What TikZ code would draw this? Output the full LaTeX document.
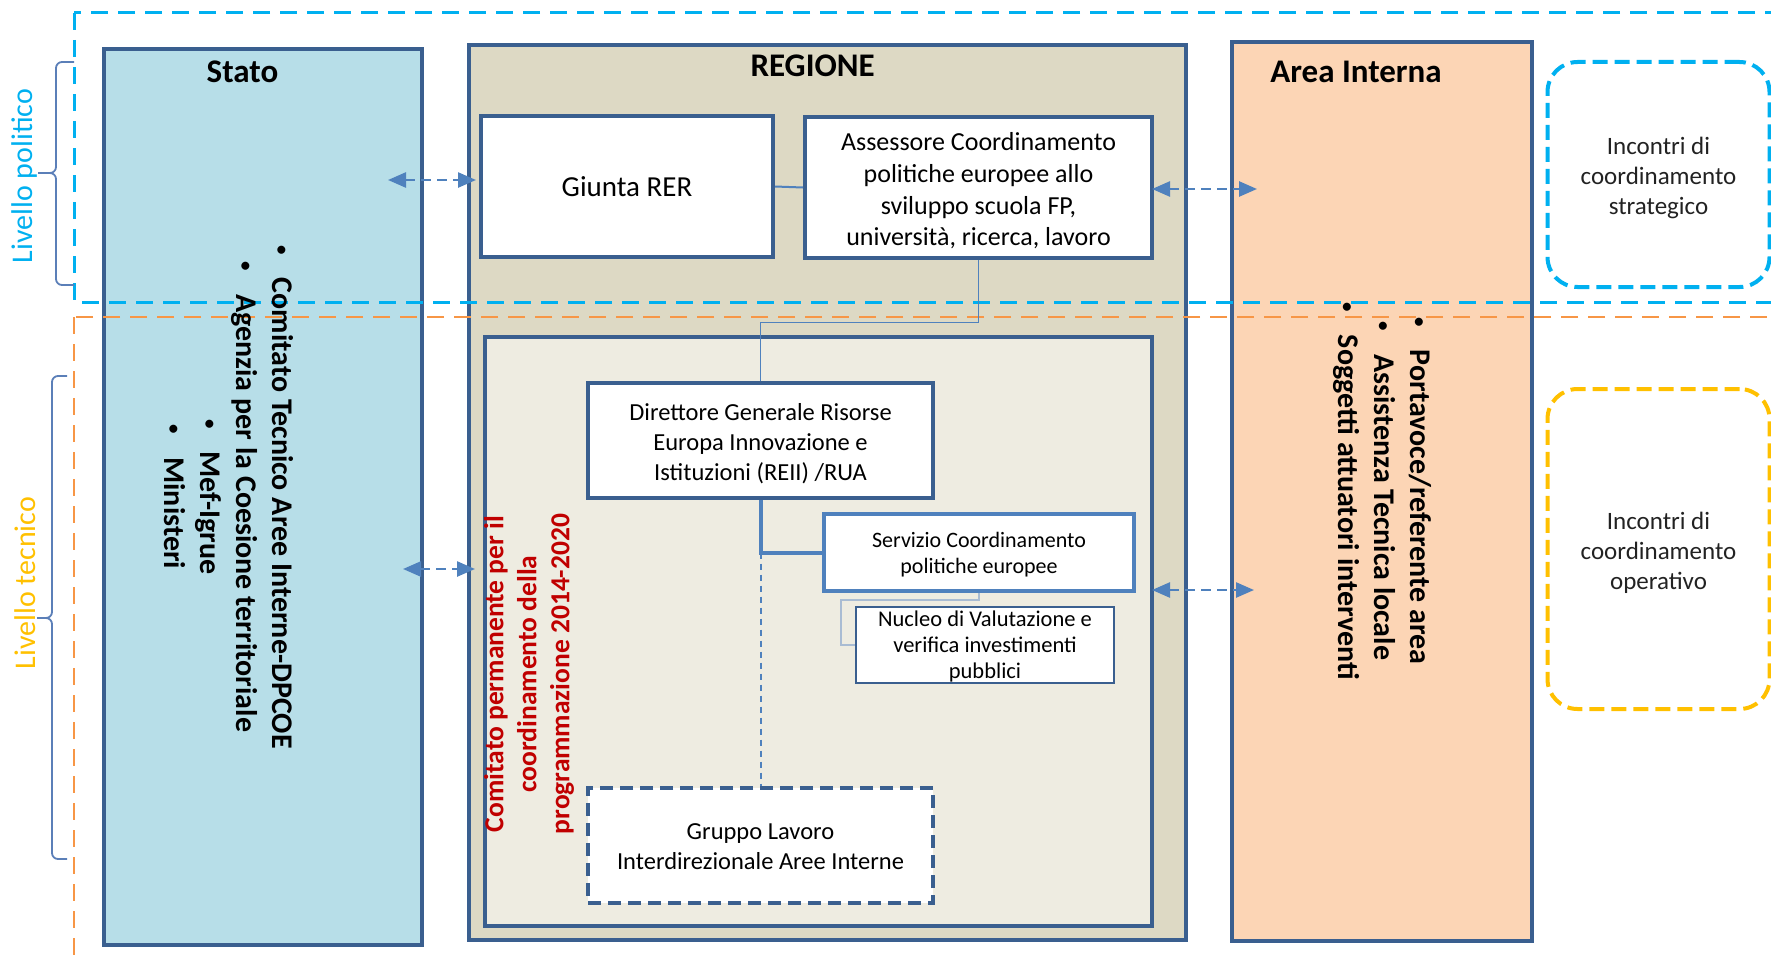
\documentclass[tikz,border=0pt]{standalone}
\usepackage{fontspec}
\setmainfont{Carlito}
\usetikzlibrary{arrows.meta}
\definecolor{boxblue}{HTML}{3A5F8F}
\definecolor{arrblue}{HTML}{4F81BD}
\definecolor{statofill}{HTML}{B7DEE8}
\definecolor{regfill}{HTML}{DDD9C4}
\definecolor{innerfill}{HTML}{EEECE1}
\definecolor{areafill}{HTML}{FCD5B5}
\definecolor{cyanc}{HTML}{00B0F0}
\definecolor{orangec}{HTML}{F79646}
\definecolor{yellowc}{HTML}{FFC000}
\definecolor{redc}{HTML}{C00000}
\definecolor{lightconn}{HTML}{A9BCD3}
\definecolor{bracec}{HTML}{5B7FB8}
\definecolor{darktext}{HTML}{222222}
\newcommand{\bul}{{\fontsize{19}{19}\selectfont\raisebox{3.5pt}{\textbullet}}\hspace{23pt}}
\begin{document}
\begin{tikzpicture}[x=1pt,y=-1pt,
  bigbox/.style={draw=boxblue, line width=4pt, inner sep=0pt},
  wbox/.style={draw=boxblue, line width=4pt, fill=white, inner sep=0pt},
  txt/.style={align=center, inner sep=0pt},
  title/.style={font=\bfseries\fontsize{33}{40}\selectfont, anchor=base, inner sep=0pt},
  conn/.style={draw=arrblue, line width=2pt},
  arr/.style={draw=arrblue, line width=2.5pt, dash pattern=on 10pt off 6pt,
     {Triangle[length=18pt,width=15pt]}-{Triangle[length=18pt,width=15pt]}},
  incontri/.style={line width=4pt, rounded corners=30pt, dash pattern=on 15pt off 7pt, inner sep=0pt},
  inctext/.style={align=center, inner sep=0pt, text=darktext, font=\fontsize{25}{30}\selectfont},
  bracep/.style={draw=bracec, line width=1.8pt, rounded corners=6pt},
  bulletlist/.style={rotate=-90, align=center, inner sep=0pt, font=\bfseries\fontsize{30}{36}\selectfont}
]
\useasboundingbox (0,0) rectangle (1771,958);
\clip (0,0) rectangle (1771,958);

% main columns
\node[bigbox, fill=statofill, minimum width=318pt, minimum height=896pt] (stato) at (263,497) {};
\node[bigbox, fill=regfill, minimum width=717pt, minimum height=895pt] (regione) at (827.5,492.5) {};
\node[bigbox, fill=areafill, minimum width=300pt, minimum height=899pt] (area) at (1382,491.5) {};
\node[bigbox, fill=innerfill, minimum width=667pt, minimum height=589pt] (comitato) at (818.5,631.5) {};

% level frames
\draw[cyanc, line width=3pt, dash pattern=on 17pt off 10pt] (74,13) rectangle (1800,302);
\draw[orangec, line width=2.5pt, dash pattern=on 17pt off 10pt] (74,317) rectangle (1800,990);

% braces and level labels
\draw[bracep] (74,62) -- (56,62) -- (56,173) -- (38,173);
\draw[bracep] (38,173) -- (56,173) -- (56,285) -- (74,285);
\draw[bracep] (67,376) -- (52,376) -- (52,618) -- (37,618);
\draw[bracep] (37,618) -- (52,618) -- (52,859) -- (67,859);
\node[rotate=90, inner sep=0pt, text=cyanc, font=\fontsize{30}{36}\selectfont] (livpol) at (25,176) {Livello politico};
\node[rotate=90, inner sep=0pt, text=yellowc, font=\fontsize{30}{36}\selectfont] (livtec) at (25,583) {Livello tecnico};

% titles
\node[title] (statot) at (242.5,82) {Stato};
\node[title] (regionet) at (812.6,77) {REGIONE};
\node[title] (areat) at (1356,82) {Area Interna};

% regione boxes
\node[wbox, minimum width=292pt, minimum height=141pt] (giunta) at (627,186.5) {};
\node[txt, font=\fontsize{29}{35}\selectfont] (giuntat) at (giunta.center) {Giunta RER};
\node[wbox, minimum width=347pt, minimum height=141pt] (assessore) at (978.5,187.5) {};
\node[txt, font=\fontsize{26}{31.7}\selectfont] (assessoret) at ([yshift=-3.5pt]assessore.center)
  {Assessore Coordinamento\\politiche europee allo\\sviluppo scuola FP,\\università, ricerca, lavoro};
\node[wbox, minimum width=345pt, minimum height=115pt] (direttore) at (760.5,440.5) {};
\node[txt, font=\fontsize{24.5}{30}\selectfont] (direttoret) at ([yshift=-3.5pt]direttore.center)
  {Direttore Generale Risorse\\Europa Innovazione e\\Istituzioni (REII) /RUA};
\node[wbox, draw=arrblue, minimum width=310pt, minimum height=77pt] (servizio) at (979,552.5) {};
\node[txt, font=\fontsize{22}{26}\selectfont] (serviziot) at ([yshift=-2.5pt]servizio.center)
  {Servizio Coordinamento\\politiche europee};
\node[wbox, line width=1.5pt, minimum width=258pt, minimum height=76pt] (nucleo) at (985,645) {};
\node[txt, font=\fontsize{22.5}{26.4}\selectfont] (nucleot) at ([yshift=-1.5pt]nucleo.center)
  {Nucleo di Valutazione e\\verifica investimenti\\pubblici};
\node[wbox, line width=3.5pt, dash pattern=on 13pt off 7pt, minimum width=345pt, minimum height=115pt] (gruppo) at (760.5,845.5) {};
\node[txt, font=\fontsize{24.5}{30}\selectfont] (gruppot) at ([yshift=-1.5pt]gruppo.center)
  {Gruppo Lavoro\\Interdirezionale Aree Interne};

% connectors inside regione
\draw[conn] (giunta.east) -- (assessore.west);
\draw[conn, line width=1.5pt] (assessore.south) -- ++(0,62.7) -| (direttore.north);
\coordinate (j) at (direttore.south |- servizio.west);
\draw[conn, line width=4pt] (direttore.south) -- (j) -- (servizio.west);
\draw[conn, dash pattern=on 6pt off 5pt] (j) -- (gruppo.north);
\draw[draw=lightconn, line width=2pt] (servizio.south) -- ++(0,7) -| ([xshift=-14pt]nucleo.west) -- (nucleo.west);

% red vertical label
\node[rotate=90, align=center, inner sep=0pt, text=redc, font=\bfseries\fontsize{27.5}{33}\selectfont] (comtext) at (529,674)
  {Comitato permanente per il\\coordinamento della\\programmazione 2014-2020};

% incontri boxes
\node[incontri, draw=cyanc, minimum width=222pt, minimum height=225pt] (strategico) at (1658.5,174.5) {};
\node[inctext] (strategicot) at ([yshift=-3pt]strategico.center) {Incontri di\\coordinamento\\strategico};
\node[incontri, draw=yellowc, minimum width=222pt, minimum height=320pt] (operativo) at (1658.5,549) {};
\node[inctext] (operativot) at ([yshift=-3.5pt]operativo.center) {Incontri di\\coordinamento\\operativo};

% bullet lists
\node[bulletlist] (statolist) at (229,497)
  {\bul Comitato Tecnico Aree Interne-DPCOE\\
   \bul Agenzia per la Coesione territoriale\\
   \bul Mef-Igrue\\
   \bul Ministeri};
\node[bulletlist] (arealist) at (1382,491)
  {\bul Portavoce/referente area\\
   \bul Assistenza Tecnica locale\\
   \bul Soggetti attuatori interventi};

% dashed double arrows
\coordinate (a1) at (388,180);
\draw[arr, shorten >=3pt] (a1) -- (giunta.west |- a1);
\coordinate (a2) at (403,569);
\draw[arr, shorten >=8pt] (a2) -- (comitato.west |- a2);
\coordinate (a3) at (1257,189);
\draw[arr, shorten <=-2pt] (assessore.east |- a3) -- (a3);
\coordinate (a4) at (1254,590);
\draw[arr, shorten <=-2pt] (comitato.east |- a4) -- (a4);
\end{tikzpicture}
\end{document}
